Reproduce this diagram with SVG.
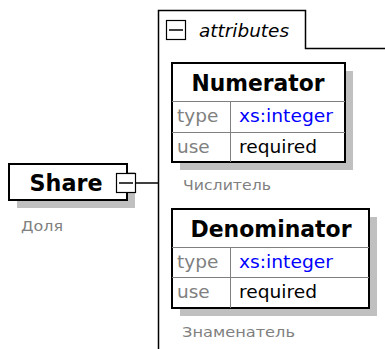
<svg xmlns="http://www.w3.org/2000/svg" width="385" height="349" viewBox="0 0 385 349">
<style>
.shadow{fill:#c0c0c0;stroke:none}
.box{fill:#fff;stroke:#000;stroke-width:2}
.sep{stroke:#808080;stroke-width:1;fill:none}
.title{font-family:"DejaVu Sans",sans-serif;font-weight:bold;font-size:23px;fill:#000;text-anchor:middle}
.cell{font-family:"DejaVu Sans",sans-serif;font-size:18.5px}
.key{fill:#808080}
.blue{fill:#0000ff}
.val{fill:#000}
.doc{font-family:"DejaVu Sans",sans-serif;font-size:14px;fill:#808080}
.line{stroke:#000;stroke-width:1.5;fill:none}
.icon{fill:#fff;stroke:#000;stroke-width:1.2}
</style>
<g id="connectors">
<path class="line" d="M136,183 H158"/>
</g>
<g id="attributes">
<path d="M158.5,349 V10.5 H305.5 V48.5 H385" fill="none" stroke="#000" stroke-width="1.5"/>
<rect class="icon" x="166.5" y="20.5" width="19" height="19"/>
<path d="M169,30 H183" stroke="#000" stroke-width="1.5"/>
<text x="199" y="37" font-family="DejaVu Sans,sans-serif" font-style="italic" font-size="18" textLength="90" lengthAdjust="spacingAndGlyphs">attributes</text>
</g>
<g id="share">
<rect class="shadow" x="17" y="172" width="118" height="36"/>
<rect class="box" x="9" y="164" width="118" height="36"/>
<text class="title" x="66" y="191" textLength="73" lengthAdjust="spacingAndGlyphs">Share</text>
<rect class="icon" x="116.5" y="173.5" width="19" height="19"/>
<path d="M119,183 H133" stroke="#000" stroke-width="1.5"/>
<text class="doc" x="21" y="231" textLength="42" lengthAdjust="spacingAndGlyphs">Доля</text>
</g>
<g id="numerator">
<rect class="shadow" x="180" y="71" width="173" height="99"/>
<rect class="box" x="172" y="63" width="173" height="99"/>
<path class="sep" d="M172,101.5 H345 M172,132.5 H345 M230.5,101.5 V162"/>
<text class="title" x="258" y="91" textLength="133" lengthAdjust="spacingAndGlyphs">Numerator</text>
<text class="cell key" x="177" y="122">type</text>
<text class="cell blue" x="239" y="122" textLength="94" lengthAdjust="spacingAndGlyphs">xs:integer</text>
<text class="cell key" x="177" y="153">use</text>
<text class="cell val" x="239" y="153" textLength="78" lengthAdjust="spacingAndGlyphs">required</text>
<text class="doc" x="183" y="190" textLength="88" lengthAdjust="spacingAndGlyphs">Числитель</text>
</g>
<g id="denominator">
<rect class="shadow" x="180" y="217" width="197" height="99"/>
<rect class="box" x="172" y="209" width="197" height="99"/>
<path class="sep" d="M172,247.5 H369 M172,277.5 H369 M230.5,247.5 V308"/>
<text class="title" x="271" y="237" textLength="161" lengthAdjust="spacingAndGlyphs">Denominator</text>
<text class="cell key" x="177" y="268">type</text>
<text class="cell blue" x="239" y="268" textLength="94" lengthAdjust="spacingAndGlyphs">xs:integer</text>
<text class="cell key" x="177" y="298">use</text>
<text class="cell val" x="239" y="298" textLength="78" lengthAdjust="spacingAndGlyphs">required</text>
<text class="doc" x="182" y="337" textLength="113" lengthAdjust="spacingAndGlyphs">Знаменатель</text>
</g>
</svg>
